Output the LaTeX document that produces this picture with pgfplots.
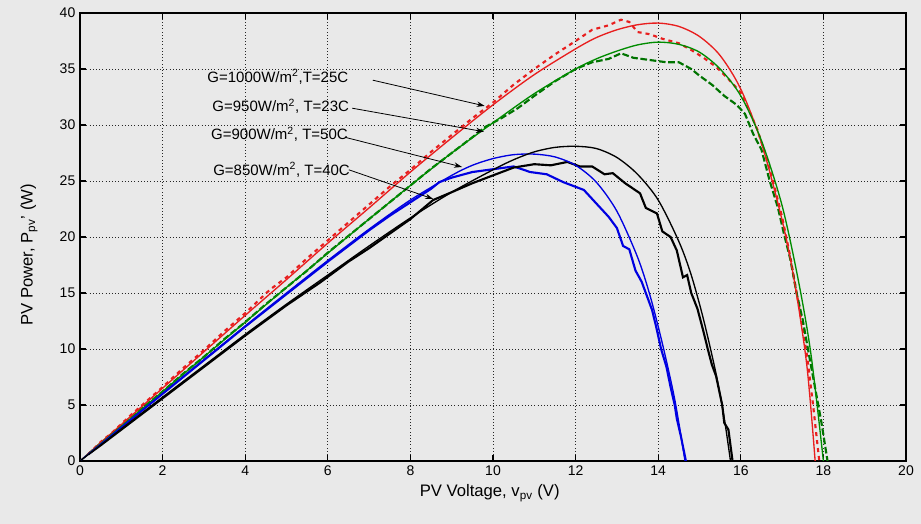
\documentclass[border=0pt]{standalone}
\usepackage{fontspec}
\setmainfont{Liberation Sans}
\usepackage{pgfplots}
\pgfplotsset{compat=1.18}
\usetikzlibrary{arrows.meta}
\definecolor{bg}{RGB}{233,233,233}
\definecolor{cred}{RGB}{232,30,30}
\definecolor{cgreen}{RGB}{0,140,0}
\definecolor{cgreenm}{RGB}{0,115,0}
\definecolor{cblue}{RGB}{0,0,225}
\begin{document}
\begin{tikzpicture}[x=1pt,y=1pt]
\fill[bg] (-60,-47.25) rectangle (630.75,345.75);
\useasboundingbox (-60,-47.25) rectangle (630.75,345.75);
\begin{axis}[
  at={(0,0)}, anchor=south west,
  scale only axis, width=619.5pt, height=336pt,
  xmin=0, xmax=20, ymin=0, ymax=40,
  xtick={0,2,...,20}, ytick={0,5,...,40},
  grid=major, grid style={dotted, black!85, line width=0.6pt},
  tick align=inside, tick pos=both, major tick length=4.5pt,
  axis line style={line width=0.8pt},
  every tick/.style={black, line width=0.8pt},
  ticklabel style={font=\fontsize{10.5}{12}\selectfont},
  /pgf/number format/assume math mode=true,
  xlabel={PV Voltage, v\textsubscript{pv} (V)},
  ylabel={PV Power, P\textsubscript{pv}' (W)},
  label style={font=\fontsize{12.5}{14}\selectfont},
  xlabel style={at={(axis description cs:0.496,-0.0714)}, anchor=center},
  ylabel style={at={(axis description cs:-0.0617,0.46)}, anchor=center},
  axis background/.style={fill=bg},
]
% measured data
\addplot[cred, line width=1.6pt, dash pattern=on 3pt off 3pt] coordinates {
(0.2,0.6)(0.5,1.7)(0.8,2.6)(1.2,4.0)(1.6,5.3)(2,6.6)(2.5,8.3)(3,9.9)(3.5,11.6)(4,13.2)(4.6,15.3)(5,16.4)(5.5,18.1)(6,19.7)(6.5,21.3)(7,22.9)(7.5,24.5)(8,26.0)(8.5,27.6)(9,29.1)(9.5,30.6)(10,32.0)(10.5,33.6)(11,35.0)(11.5,36.3)(12,37.5)(12.4,38.5)(12.8,38.9)(13.1,39.4)(13.3,39.2)(13.5,38.3)(13.8,38.1)(14.1,37.7)(14.5,37.3)(14.8,36.7)(15.1,36.0)(15.4,35.2)(15.7,34.1)(16,32.9)(16.2,31.3)(16.4,29.6)(16.6,27.3)(16.8,24.7)(17,21.8)(17.2,18.2)(17.4,14.0)(17.6,9.5)(17.75,5.0)(17.9,0)};
\addplot[cgreenm, line width=1.6pt, dash pattern=on 5pt off 2pt] coordinates {
(0.2,0.6)(0.5,1.6)(1,3.1)(1.5,4.7)(2,6.2)(2.5,7.8)(3,9.3)(3.5,10.9)(4,12.4)(4.5,14.0)(5,15.5)(5.5,17.0)(6,18.6)(6.5,20.1)(7,21.6)(7.5,23.1)(8,24.6)(8.5,26.1)(9,27.5)(9.5,28.9)(9.8,29.8)(10.2,30.6)(10.6,31.5)(11,32.6)(11.5,33.9)(12,35.0)(12.4,35.6)(12.8,35.9)(13.1,36.4)(13.4,36.0)(13.8,35.8)(14.2,35.6)(14.5,35.6)(14.8,35.0)(15.0,34.4)(15.3,33.6)(15.6,32.6)(15.9,31.8)(16.1,31.0)(16.3,29.2)(16.5,27.8)(16.7,25.0)(16.9,22.6)(17.05,20.2)(17.2,18.0)(17.35,15.0)(17.5,12.6)(17.65,9.5)(17.8,6.5)(17.95,3.5)(18.1,0)};
\addplot[cblue, line width=1.6pt] coordinates {
(0.2,0.6)(0.5,1.5)(1,3.0)(1.5,4.5)(2,6.0)(3,9.0)(4,12.0)(5,14.9)(6,17.8)(7,20.6)(7.5,21.9)(8,23.1)(8.5,24.3)(8.7,24.9)(9,25.3)(9.5,25.8)(10.1,26.1)(10.5,26.3)(10.9,25.8)(11.3,25.6)(11.7,24.9)(12.2,24.2)(12.5,23.0)(12.8,21.8)(13.0,20.8)(13.15,19.2)(13.3,18.9)(13.45,17.0)(13.6,16.0)(13.7,15.0)(13.85,13.5)(13.95,12.0)(14.07,10.0)(14.2,8.4)(14.3,6.6)(14.4,5.0)(14.45,3.8)(14.55,2.2)(14.67,0)};
\addplot[black, line width=1.6pt] coordinates {
(0.2,0.6)(0.5,1.4)(1,2.8)(1.5,4.2)(2,5.6)(3,8.4)(4,11.2)(5,13.9)(5.8,15.9)(6.5,17.8)(7,19.0)(7.5,20.3)(8,21.6)(8.55,23.3)(9,24.0)(9.5,24.8)(10,25.5)(10.5,26.2)(11,26.5)(11.4,26.4)(11.8,26.7)(12.1,26.3)(12.4,26.3)(12.7,25.6)(12.9,25.7)(13.2,24.8)(13.56,23.9)(13.7,22.6)(13.97,22.1)(14.1,20.5)(14.3,20.0)(14.45,18.8)(14.6,16.4)(14.7,16.6)(14.8,15.0)(14.95,13.6)(15.1,11.5)(15.2,10.0)(15.3,8.6)(15.4,7.6)(15.55,5.0)(15.6,3.4)(15.7,2.8)(15.8,0)};
% model curves
\addplot[cred, line width=1pt, smooth] coordinates {
(0,0)(0.5,1.63)(1,3.25)(2,6.5)(3,9.75)(4,13.0)(5,16.2)(6,19.45)(7,22.6)(8,25.8)(9,28.85)(10,31.8)(11,34.5)(12,36.8)(12.5,37.8)(13,38.5)(13.5,38.95)(14,39.1)(14.5,38.8)(15,37.9)(15.5,36.2)(16,33.2)(16.5,28.4)(17,21.5)(17.3,16.0)(17.6,8.5)(17.8,0)};
\addplot[cgreen, line width=1pt, smooth] coordinates {
(0,0)(0.5,1.55)(1,3.1)(2,6.2)(3,9.3)(4,12.4)(5,15.5)(6,18.55)(7,21.6)(8,24.6)(9,27.5)(10,30.2)(11,32.8)(12,35.0)(12.5,35.9)(13,36.6)(13.5,37.15)(14,37.4)(14.5,37.2)(15,36.5)(15.5,35.0)(16,32.6)(16.5,28.6)(17,22.8)(17.4,16.0)(17.7,9.5)(18.0,0)};
\addplot[cblue, line width=1pt, smooth] coordinates {
(0,0)(0.5,1.51)(1,3.02)(2,6.04)(3,9.05)(4,12.05)(5,15.0)(6,17.9)(7,20.7)(8,23.3)(9,25.5)(9.5,26.4)(10,27.0)(10.5,27.35)(11,27.4)(11.5,27.15)(12,26.4)(12.5,24.9)(13,22.3)(13.5,18.2)(13.8,14.8)(14.1,10.5)(14.4,5.5)(14.65,0)};
\addplot[black, line width=1pt, smooth] coordinates {
(0,0)(0.5,1.43)(1,2.86)(2,5.7)(3,8.5)(4,11.3)(5,14.0)(6,16.6)(7,19.2)(8,21.7)(9,24.0)(10,26.0)(10.5,26.9)(11,27.6)(11.5,28.0)(12,28.1)(12.5,27.9)(13,27.1)(13.5,25.6)(14,23.3)(14.5,19.6)(14.8,16.6)(15.1,12.6)(15.4,7.8)(15.6,3.8)(15.75,0)};
% annotations
\begin{scope}[every node/.style={font=\fontsize{11.25}{13}\selectfont, inner sep=0pt, anchor=west}]
\node at (axis cs:3.08,34.3) {G=1000W/m\textsuperscript{2},T=25C};
\node at (axis cs:3.2,31.7) {G=950W/m\textsuperscript{2}, T=23C};
\node at (axis cs:3.17,29.2) {G=900W/m\textsuperscript{2}, T=50C};
\node at (axis cs:3.22,26.0) {G=850W/m\textsuperscript{2}, T=40C};
\end{scope}
\draw[-{Stealth[length=6pt,width=4pt]}, line width=0.6pt] (axis cs:7.09,34.0) -- (axis cs:9.8,31.7);
\draw[-{Stealth[length=6pt,width=4pt]}, line width=0.6pt] (axis cs:6.59,31.5) -- (axis cs:9.78,29.4);
\draw[-{Stealth[length=6pt,width=4pt]}, line width=0.6pt] (axis cs:6.42,28.9) -- (axis cs:9.25,26.25);
\draw[-{Stealth[length=6pt,width=4pt]}, line width=0.6pt] (axis cs:6.51,26.0) -- (axis cs:8.55,23.4);
\end{axis}
\end{tikzpicture}
\end{document}
